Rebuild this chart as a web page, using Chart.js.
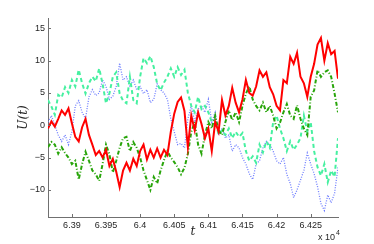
<!DOCTYPE html>
<html>
<head>
<meta charset="utf-8">
<script src="https://cdn.jsdelivr.net/npm/chart.js@4/dist/chart.umd.min.js"></script>
<style>
html,body{margin:0;padding:0;background:#fff;}
#wrap{width:374px;height:244px;position:relative;}
</style>
</head>
<body>
<div id="wrap"><canvas id="c" width="374" height="244"></canvas></div>
<script>
// time grid (t), step 5
const tStart = 63865, tStep = 5, nPts = 86;
const tValues = [];
for (let i = 0; i < nPts; i++) tValues.push(tStart + i * tStep);

const uRed = [-0.5,0.6,-0.2,1.0,2.3,1.6,2.6,0.3,-1.8,-2.5,
  -0.3,1.0,-1.5,-3.0,-4.6,-4.0,-5.0,-3.8,-6.3,-5.2,
  -7.2,-9.6,-7.0,-5.8,-7.0,-5.2,-6.3,-4.0,-3.0,-5.3,
  -3.8,-5.0,-3.6,-5.0,-3.8,-4.6,-1.0,1.8,3.6,4.3,
  2.2,-3.4,1.5,-0.8,2.0,0.2,-2.0,-0.5,-4.0,0.5,
  -1.0,3.9,1.5,3.0,5.8,3.5,2.0,4.0,7.0,5.0,
  4.6,6.0,8.5,7.5,8.2,5.9,4.8,3.0,2.3,7.0,
  6.5,10.6,9.5,11.2,7.5,6.5,4.4,7.5,9.5,12.5,
  13.5,10.0,12.7,11.0,11.5,7.2];

const uGreen = [-3.4,-2.6,-3.0,-4.4,-3.4,-4.3,-5.0,-6.0,-5.5,-8.4,
  -6.0,-4.1,-5.5,-7.0,-7.6,-8.6,-6.0,-3.0,-4.5,-7.3,
  -5.5,-3.5,-2.0,-1.8,-4.0,-2.6,-3.5,-5.0,-7.0,-8.5,
  -10.0,-8.0,-9.0,-7.0,-5.4,-4.0,-5.0,-5.7,-6.5,-7.6,
  -6.6,-4.4,-1.0,0.5,-3.0,-4.4,-1.5,0.5,-0.5,1.5,
  -0.8,-1.5,0.5,2.3,0.8,2.0,0.5,3.0,4.9,6.0,
  4.0,3.0,2.3,3.5,2.0,3.0,1.5,-0.5,0.4,2.0,
  3.3,1.5,1.0,3.1,1.0,-0.5,-1.5,4.4,5.4,8.5,
  7.5,8.2,8.5,7.5,4.9,2.0];

const uAqua = [3.9,2.9,1.6,4.7,4.3,5.9,5.0,7.0,6.0,8.6,
  6.5,4.9,6.5,7.5,6.8,8.8,6.4,3.4,4.9,7.5,
  8.2,4.9,3.8,3.4,7.5,3.9,3.4,7.5,10.4,9.6,
  10.7,9.0,6.4,5.4,6.6,7.5,8.8,7.5,9.0,7.8,
  8.6,5.0,3.0,2.0,4.4,2.5,3.0,2.0,0.5,1.0,
  -1.5,-0.8,-1.5,-0.5,-2.0,-1.0,-1.8,-1.2,-4.0,-5.5,
  -4.8,-5.8,-3.0,-4.2,-2.5,-3.5,0.5,1.5,-0.5,-2.0,
  -4.0,-2.5,-3.8,-3.0,-2.0,1.5,-1.0,0.5,-4.0,-6.5,
  -7.8,-6.0,-8.8,-7.0,-8.0,-2.0];

const uBlue = [0.5,1.5,0.0,-1.5,-2.5,-1.5,-3.0,-1.0,3.0,3.8,
  2.0,1.0,4.4,5.5,4.6,5.0,7.0,6.0,4.0,4.5,
  6.0,9.6,7.0,7.5,6.0,7.0,5.5,6.0,4.9,5.5,
  3.5,4.0,6.4,5.5,5.0,4.0,1.0,-1.0,-3.0,-2.8,
  -3.5,1.0,3.0,0.5,2.5,3.0,2.0,4.0,0.5,2.0,
  -1.5,-0.5,-2.0,-1.5,-4.0,-3.0,-3.5,-5.0,-6.0,-7.5,
  -8.4,-6.0,-5.5,-3.5,-2.5,-3.0,-4.0,-5.5,-6.0,-5.0,
  -7.6,-9.0,-11.2,-10.0,-8.5,-7.0,-4.3,-6.0,-7.5,-9.5,
  -12.1,-13.2,-10.8,-12.0,-10.5,-6.5];

const xTicks = [63900,63950,64000,64050,64100,64150,64200,64250];
const xTickLabels = ['6.39','6.395','6.4','6.405','6.41','6.415','6.42','6.425'];
const yTicks = [-10,-5,0,5,10,15];
const yTickLabels = ['\u221210','\u22125','0','5','10','15'];
const xRange = [63865, 64290];
const yRange = [-14.2, 16.6];

function pts(u){ return u.map((v,i)=>({x:tValues[i], y:v})); }

const axisColor = '#707070';
const textColor = '#262626';

const tickPlugin = {
  id: 'inwardTicks',
  afterDraw(chart){
    const ctx = chart.ctx, xs = chart.scales.x, ys = chart.scales.y;
    const ca = chart.chartArea;
    ctx.save();
    ctx.strokeStyle = axisColor;
    ctx.lineWidth = 1;
    ctx.beginPath();
    xTicks.forEach(v=>{
      const px = Math.round(xs.getPixelForValue(v)) + 0.5;
      ctx.moveTo(px, ca.bottom); ctx.lineTo(px, ca.bottom - 3);
    });
    yTicks.forEach(v=>{
      const py = Math.round(ys.getPixelForValue(v)) + 0.5;
      ctx.moveTo(ca.left, py); ctx.lineTo(ca.left + 3, py);
    });
    ctx.stroke();
    // exponent label
    ctx.fillStyle = textColor;
    ctx.textBaseline = 'alphabetic';
    ctx.textAlign = 'left';
    ctx.font = '9px "Liberation Sans", Arial, sans-serif';
    ctx.fillText('x 10', ca.right - 20, 240);
    ctx.font = '7px "Liberation Sans", Arial, sans-serif';
    ctx.fillText('4', ca.right - 2, 235);
    ctx.restore();
  }
};

new Chart(document.getElementById('c'), {
  type: 'line',
  data: {
    datasets: [
      {label:'red', data: pts(uRed), borderColor:'#ff0000', borderWidth:2, pointRadius:0, tension:0},
      {label:'green', data: pts(uGreen), borderColor:'rgb(40,165,10)', borderWidth:2, borderDash:[4,2,1,2], pointRadius:0, tension:0},
      {label:'aqua', data: pts(uAqua), borderColor:'rgb(70,240,160)', borderWidth:2, borderDash:[4,3], pointRadius:0, tension:0},
      {label:'blue', data: pts(uBlue), borderColor:'rgb(110,125,255)', borderWidth:1.3, borderDash:[1,1.5], pointRadius:0, tension:0}
    ]
  },
  options: {
    responsive: false,
    animation: false,
    devicePixelRatio: 1,
    layout: { padding: { left: 0, right: 36, top: 18, bottom: 0 } },
    plugins: { legend: { display: false }, tooltip: { enabled: false } },
    scales: {
      x: {
        type: 'linear',
        min: xRange[0], max: xRange[1],
        afterBuildTicks(s){ s.ticks = xTicks.map(v=>({value:v})); },
        afterFit(s){ s.height = 27; },
        grid: { display: true, drawOnChartArea: false, drawTicks: false },
        border: { display: true, color: axisColor, width: 1 },
        ticks: {
          autoSkip: false, maxRotation: 0, padding: 3, color: textColor,
          font: { family: '"Liberation Sans", Arial, sans-serif', size: 9 },
          callback(v){ const k = xTicks.indexOf(v); return k >= 0 ? xTickLabels[k] : ''; }
        },
        title: { display: true, text: 't', color: textColor, padding: { top: 0, bottom: 5 },
          font: { family: '"DejaVu Serif", "Liberation Serif", serif', size: 12, style: 'italic' } }
      },
      y: {
        type: 'linear',
        min: yRange[0], max: yRange[1],
        afterBuildTicks(s){ s.ticks = yTicks.map(v=>({value:v})); },
        afterFit(s){ s.width = 48; },
        grid: { display: true, drawOnChartArea: false, drawTicks: false },
        border: { display: true, color: axisColor, width: 1 },
        ticks: {
          autoSkip: false, padding: 3, color: textColor,
          font: { family: '"Liberation Sans", Arial, sans-serif', size: 9 },
          callback(v){ const k = yTicks.indexOf(v); return k >= 0 ? yTickLabels[k] : ''; }
        },
        title: { display: true, text: 'U(t)', color: textColor, padding: { top: 17, bottom: 0 },
          font: { family: '"DejaVu Serif", "Liberation Serif", serif', size: 12, style: 'italic' } }
      }
    }
  },
  plugins: [tickPlugin]
});
</script>
</body>
</html>
